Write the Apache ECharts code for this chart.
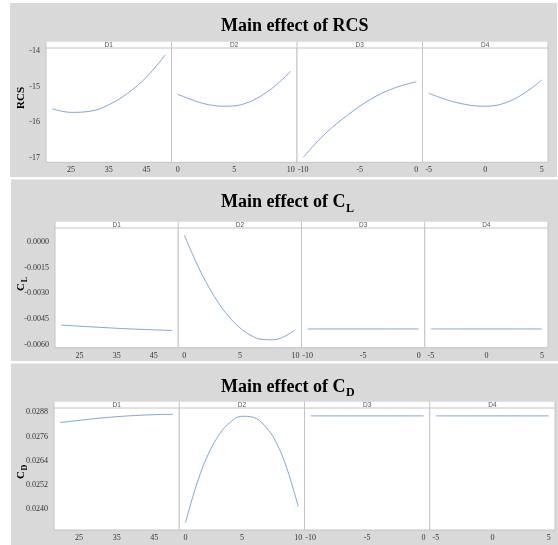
<!DOCTYPE html>
<html>
<head>
<meta charset="utf-8">
<script src="https://cdn.jsdelivr.net/npm/echarts@6/dist/echarts.min.js"></script>
<style>
  html, body { margin: 0; padding: 0; background: #fff; }
  #chart { width: 558px; height: 545px; }
</style>
</head>
<body>
<div id="chart"></div>
<script>
// factor levels (x values)
const factors = ['D1', 'D2', 'D3', 'D4'];
const d1Levels = [20, 25, 30, 35, 40, 45, 50];
const d2Levels = [0, 1, 2, 3, 4, 5, 6, 7, 8, 9, 10];
const d3Levels = [-10, -8, -6, -4, -2, 0];
const d4Levels = [-5, -2.5, 0, 2.5, 5];

// tick labels
const d1Ticks = [25, 35, 45];
const d2Ticks = [0, 5, 10];
const d3Ticks = [-10, -5, 0];
const d4Ticks = [-5, 0, 5];
const rcsTicks = [-17, -16, -15, -14];
const clTicks = [-0.006, -0.0045, -0.003, -0.0015, 0];
const cdTicks = [0.024, 0.0252, 0.0264, 0.0276, 0.0288];

// main effect of RCS
const rcsD1 = [-15.62, -15.72, -15.69, -15.51, -15.19, -14.74, -14.12];
const rcsD2 = [-15.22, -15.34, -15.45, -15.52, -15.55, -15.54, -15.47, -15.33, -15.13, -14.88, -14.57];
const rcsD3 = [-16.97, -16.30, -15.78, -15.35, -15.05, -14.87];
const rcsD4 = [-15.19, -15.45, -15.55, -15.36, -14.82];

// main effect of CL
const clD1 = [-0.00484, -0.00491, -0.00497, -0.00503, -0.00508, -0.00512, -0.00516];
const clD2 = [0.00039, -0.00111, -0.00240, -0.00348, -0.00435, -0.00500, -0.00545, -0.00568, -0.00570, -0.00551, -0.00511];
const clD3 = [-0.00507, -0.00507, -0.00507, -0.00507, -0.00507, -0.00507];
const clD4 = [-0.00507, -0.00507, -0.00507, -0.00507, -0.00507];

// main effect of CD
const cdD1 = [0.02829, 0.02840, 0.02850, 0.02858, 0.02864, 0.02868, 0.02870];
const cdD2 = [0.02333, 0.02525, 0.02670, 0.02770, 0.02832, 0.02860, 0.02855, 0.02815, 0.02735, 0.02600, 0.02413];
const cdD3 = [0.02862, 0.02862, 0.02862, 0.02862, 0.02862, 0.02862];
const cdD4 = [0.02862, 0.02862, 0.02862, 0.02862, 0.02862];

const levels = [d1Levels, d2Levels, d3Levels, d4Levels];
const xTicks = [d1Ticks, d2Ticks, d3Ticks, d4Ticks];
const xRanges = [[18.35, 51.65], [-0.55, 10.55], [-10.55, 0.55], [-5.55, 5.55]];

const SERIF = '"Liberation Serif", "Times New Roman", serif';
const SANS = '"Liberation Sans", Arial, sans-serif';
const lineColor = '#7ea7db';
const borderColor = '#c4c4c4';

// layout of the three panels
const panels = [
  { bg: [10, 3, 547, 174], left: 46, top: 48, width: 502, height: 114.3,
    ymin: -17.11, ymax: -13.93, ticks: rcsTicks, dec: 0,
    data: [rcsD1, rcsD2, rcsD3, rcsD4],
    title: 'Main effect of RCS', sub: '', titleY: 26.5,
    yname: 'RCS', ysub: '', ynameY: 98 },
  { bg: [11, 179.5, 547, 181.5], left: 55, top: 228, width: 493, height: 119.7,
    ymin: -0.00616, ymax: 0.0008, ticks: clTicks, dec: 4,
    data: [clD1, clD2, clD3, clD4],
    title: 'Main effect of C', sub: 'L', titleY: 202.5,
    yname: 'C', ysub: 'L', ynameY: 287 },
  { bg: [11, 363.5, 547, 182], left: 54, top: 408, width: 501, height: 122,
    ymin: 0.02298, ymax: 0.02901, ticks: cdTicks, dec: 4,
    data: [cdD1, cdD2, cdD3, cdD4],
    title: 'Main effect of C', sub: 'D', titleY: 387,
    yname: 'C', ysub: 'D', ynameY: 475 }
];

const measure = document.createElement('canvas').getContext('2d');
function textWidth(str, font) {
  measure.font = font;
  return measure.measureText(str).width;
}

const grid = [], xAxis = [], yAxis = [], series = [], graphic = [];
const stripH = 6.3;

panels.forEach(function (p, pi) {
  const fw = p.width / 4;
  graphic.push({ type: 'rect', z: -10, shape: { x: p.bg[0], y: p.bg[1], width: p.bg[2], height: p.bg[3] },
    style: { fill: '#d9d9d9' } });
  graphic.push({ type: 'rect', z: -5, shape: { x: p.left, y: p.top - stripH, width: p.width, height: stripH },
    style: { fill: '#ffffff' } });

  // title with optional subscript
  const tFont = 'bold 18px "Liberation Serif"';
  graphic.push({ type: 'text', x: 221, y: p.titleY,
    style: { text: p.title, font: tFont, fill: '#000', align: 'left', verticalAlign: 'middle' } });
  if (p.sub) {
    graphic.push({ type: 'text', x: 221 + textWidth(p.title, tFont) + 0.5, y: p.titleY + 6,
      style: { text: p.sub, font: 'bold 12px "Liberation Serif"', fill: '#000', align: 'left', verticalAlign: 'middle' } });
  }
  // rotated y-axis name
  graphic.push({ type: 'text', x: 21, y: p.ynameY, rotation: Math.PI / 2,
    style: { text: p.yname, font: 'bold 11px "Liberation Serif"', fill: '#000', align: 'center', verticalAlign: 'middle' } });
  if (p.ysub) {
    graphic.push({ type: 'text', x: 25, y: p.ynameY - 7.5, rotation: Math.PI / 2,
      style: { text: p.ysub, font: 'bold 8px "Liberation Serif"', fill: '#000', align: 'center', verticalAlign: 'middle' } });
  }

  for (let f = 0; f < 4; f++) {
    const gi = pi * 4 + f;
    const gl = p.left + f * fw;
    grid.push({ left: gl, top: p.top, width: fw, height: p.height, show: true,
      backgroundColor: '#fff', borderColor: borderColor, borderWidth: 1, z: 1 });
    // strip label and separator
    graphic.push({ type: 'text', x: gl + fw / 2, y: p.top - stripH / 2 + 0.3,
      style: { text: factors[f], font: '6.5px ' + SANS, fill: '#555', align: 'center', verticalAlign: 'middle' } });
    graphic.push({ type: 'line', z: -4, shape: { x1: gl, y1: p.top - stripH, x2: gl, y2: p.top },
      style: { stroke: borderColor, lineWidth: 1 } });
    if (f === 3) {
      graphic.push({ type: 'line', z: -4, shape: { x1: gl + fw, y1: p.top - stripH, x2: gl + fw, y2: p.top },
        style: { stroke: borderColor, lineWidth: 1 } });
    }

    xAxis.push({ type: 'value', gridIndex: gi, min: xRanges[f][0], max: xRanges[f][1],
      axisLine: { show: false }, axisTick: { show: false }, splitLine: { show: false },
      axisLabel: { customValues: xTicks[f], margin: 4, fontSize: 8, fontFamily: SERIF, color: '#333' } });
    yAxis.push({ type: 'value', gridIndex: gi, min: p.ymin, max: p.ymax,
      axisLine: { show: false }, axisTick: { show: false }, splitLine: { show: false },
      axisLabel: { show: f === 0, customValues: p.ticks, margin: 6, fontSize: 8, fontFamily: SERIF, color: '#333',
        formatter: function (v) { return v.toFixed(p.dec); } } });
    series.push({ type: 'line', xAxisIndex: gi, yAxisIndex: gi, smooth: 0.4, showSymbol: false,
      silent: true, z: 3, lineStyle: { color: lineColor, width: 1 },
      data: levels[f].map(function (x, i) { return [x, p.data[f][i]]; }) });
  }
});

const chart = echarts.init(document.getElementById('chart'));
chart.setOption({
  animation: false,
  backgroundColor: '#fff',
  grid: grid,
  xAxis: xAxis,
  yAxis: yAxis,
  series: series,
  graphic: graphic
});
</script>
</body>
</html>
